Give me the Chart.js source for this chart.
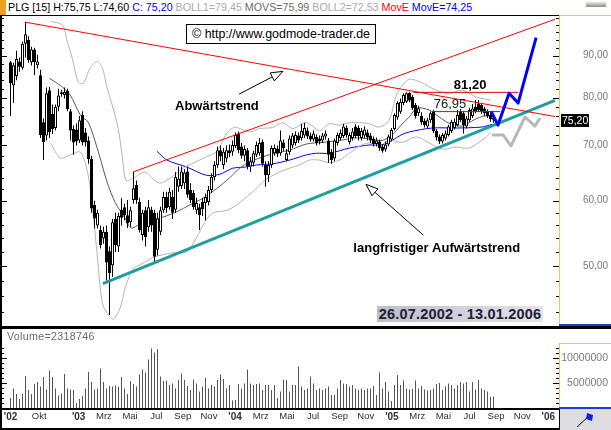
<!DOCTYPE html>
<html>
<head>
<meta charset="utf-8">
<script src="https://cdn.jsdelivr.net/npm/chart.js@4.4.1/dist/chart.umd.min.js"></script>
<style>
  html, body { margin: 0; padding: 0; background: #fff; }
  body { width: 611px; height: 430px; position: relative; overflow: hidden;
         font-family: "Liberation Sans", Arial, Helvetica, sans-serif; }
  .abs { position: absolute; }
  #head { left: 8px; top: 1px; font-size: 10.7px; line-height: 13px; white-space: nowrap; }
  #copy { left: 186px; top: 24px; width: 188px; height: 18px; border: 1px solid #000; background: #fff;
          font-size: 12.4px; line-height: 18px; text-align: center; white-space: nowrap; }
  #range { left: 377px; top: 306px; width: 166px; height: 16px;
           background: linear-gradient(to right, #bdbdcc, #e4e4ec);
           font-weight: bold; font-size: 14.5px; line-height: 16px; text-align: center; color: #20202c;
           letter-spacing: 0.2px; white-space: nowrap; }
  #vollabel { left: 7px; top: 330px; font-size: 10.7px; line-height: 12px; color: #6a6a6a; letter-spacing: 0.3px; }
</style>
</head>
<body>
<canvas id="price" class="abs" width="611" height="309" style="left:0;top:16px"></canvas>
<canvas id="volume" class="abs" width="611" height="101" style="left:0;top:329px"></canvas>

<div class="abs" style="left:0;top:0;width:6px;height:15px;background:#f0a020"></div>
<div id="head" class="abs"></div>
<div class="abs" style="left:586px;top:2px;width:20px;height:5px;background:linear-gradient(#e8e8e8,#8c8c8c)"></div>

<div class="abs" style="left:0;top:15px;width:559px;height:1px;background:#000"></div>
<div class="abs" style="left:559px;top:15px;width:52px;height:1px;background:#f2c44c"></div>
<div class="abs" style="left:559px;top:15px;width:1px;height:310px;background:#f2c44c"></div>
<div class="abs" style="left:559px;top:324px;width:52px;height:2px;background:#1c3cd0"></div>
<div class="abs" style="left:0;top:326px;width:611px;height:3px;background:#000"></div>

<div id="copy" class="abs">&copy; http://www.godmode-trader.de</div>
<div id="range" class="abs"></div>
<div id="vollabel" class="abs"></div>

<div class="abs" style="left:559px;top:343px;width:52px;height:1px;background:#f2c44c"></div>
<div class="abs" style="left:559px;top:343px;width:1px;height:65px;background:#f2c44c"></div>
<div class="abs" style="left:559px;top:407px;width:52px;height:2px;background:#1c3cd0"></div>
<div class="abs" style="left:0;top:408px;width:559px;height:2px;background:#000"></div>
<div class="abs" style="left:0;top:428px;width:559px;height:2px;background:#000"></div>
<div class="abs" style="left:559px;top:409px;width:51px;height:21px;background:#dcdce2;border-left:1px solid #000"></div>
<svg class="abs" style="left:560px;top:409px" width="51" height="21">
  <line x1="17" y1="18" x2="29" y2="7" stroke="#000" stroke-width="1"/>
  <path d="M27 4 L33 6 L32 12 L26 10 Z" fill="#1020e0"/>
</svg>
<div class="abs" style="left:0;top:15px;width:2px;height:415px;background:#000"></div>

<script>
// ---- weekly quotes, one entry per week starting 26.07.2002 ----
const firstWeek = '2002-07-26';
const rangeText = ['26.07.2002', '13.01.2006'];

const opens = [88.3,82.8,85.0,88.5,87.0,93.0,94.0,88.3,91.5,87.6, 85.2,74.7,72.0,81.7,76.5,73.5,78.0,81.2,80.6,81.5,
  77.0,73.3,73.2,71.0,76.2,72.6,71.0,67.4,59.3,56.0, 55.3,54.0,55.0,52.1,50.1,57.0,52.8,58.5,58.9,57.6,
  56.5,60.1,62.7,59.8,54.5,58.4,55.7,58.5,58.0,52.3, 55.0,58.4,60.6,58.9,60.6,58.5,62.4,62.5,63.0,65.1,
  61.8,61.3,58.4,58.9,59.8,59.6,59.8,61.8,64.1,66.3, 69.1,66.3,67.5,69.1,68.8,69.9,72.4,69.8,68.0,69.1,
  66.0,66.7,68.2,68.5,70.7,66.3,64.4,66.3,68.5,69.4, 68.5,70.6,67.2,68.7,70.0,70.5,72.0,71.5,72.0,73.0,
  72.0,71.2,71.7,71.4,71.0,71.8,71.0,68.8,67.5,70.5, 71.5,71.9,73.5,70.7,71.5,73.8,73.5,71.5,72.0,72.6,
  72.0,71.3,70.3,70.8,69.8,69.2,70.2,71.2,73.3,75.7, 76.9,78.8,79.1,81.1,80.2,78.4,76.6,76.0,75.0,73.8,
  75.1,77.0,72.9,71.8,70.8,71.4,72.1,72.9,73.5,74.1, 77.0,76.6,73.8,75.1,76.0,78.0,78.7,78.4,77.6,77.0,
  76.2,75.6];
const highs = [88.6,88.2,91.2,89.5,93.5,98.8,95.0,92.2,92.0,90.2, 86.5,75.5,82.3,82.5,78.5,78.5,82.0,81.8,82.3,82.0,
  77.5,74.0,74.5,76.0,77.0,73.5,71.8,68.0,60.0,58.5, 56.0,55.8,56.0,52.8,57.0,58.0,58.0,60.4,59.5,60.1,
  59.0,65.0,63.5,60.5,58.5,59.0,60.1,59.0,58.5,58.0, 59.0,61.5,61.5,62.2,61.8,65.0,66.0,66.0,65.5,66.0,
  63.0,61.8,60.5,59.5,60.5,61.2,62.5,64.8,67.0,69.8, 70.0,69.5,70.0,70.2,71.0,72.6,72.8,70.5,70.0,69.5,
  67.8,69.0,70.8,71.5,71.2,67.0,67.0,70.0,70.2,70.0, 73.0,71.2,69.3,72.0,72.5,72.8,72.6,74.4,74.6,73.6,
  72.6,73.0,72.2,72.0,72.5,73.0,71.5,69.3,71.4,72.6, 73.2,74.4,74.0,72.6,73.5,74.3,74.0,73.5,73.8,73.2,
  72.5,71.8,71.6,71.2,70.3,70.8,72.2,73.5,76.6,79.2, 79.8,81.0,81.2,81.2,80.6,78.8,78.2,76.8,75.5,75.6,
  76.95,77.3,73.3,72.2,72.5,73.0,74.2,75.2,75.5,77.3, 77.5,77.0,76.0,77.8,78.6,79.5,79.5,78.8,78.0,77.4,
  76.6,75.75];
const lows = [76.0,78.8,84.0,86.0,86.5,89.5,88.2,87.5,85.2,86.8, 71.5,67.2,71.0,71.5,72.3,73.0,77.0,80.2,79.8,77.0,
  71.0,68.2,70.0,70.5,70.0,69.8,66.5,58.0,55.5,55.5, 52.5,53.2,48.0,43.6,48.5,52.0,52.0,56.0,56.8,55.6,
  55.8,59.5,59.5,54.9,53.7,52.8,55.0,55.0,50.3,51.5, 54.5,58.0,58.0,58.5,57.0,58.0,61.5,62.0,62.0,60.5,
  59.6,58.5,57.8,55.3,57.5,56.8,59.2,61.3,63.5,65.8, 67.0,65.5,66.8,67.8,68.0,69.5,68.5,67.5,67.0,65.5,
  65.0,66.0,67.8,68.0,66.0,62.4,63.2,65.8,68.0,67.8, 68.0,69.0,67.0,68.2,69.5,70.0,70.5,71.0,71.5,71.3,
  70.8,70.8,70.0,70.2,70.5,71.2,66.7,66.5,67.0,70.0, 71.0,71.5,71.6,70.2,71.0,71.5,71.0,71.0,71.5,71.0,
  70.5,69.8,69.8,69.0,68.6,68.8,69.8,70.8,73.0,75.2, 76.5,78.3,78.8,79.0,77.3,75.5,76.0,74.2,73.6,73.4,
  74.6,72.5,71.0,70.3,70.4,71.0,71.8,72.5,73.2,73.8, 74.7,72.4,73.4,74.8,75.6,76.6,76.9,76.5,76.0,75.6,
  74.8,74.6];
const closes = [83.3,87.6,89.1,87.2,93.0,95.5,88.8,91.5,88.3,88.5, 72.1,70.7,81.0,72.7,73.3,78.0,80.5,80.8,81.3,77.5,
  73.0,70.6,70.8,75.1,70.6,70.6,67.4,58.7,57.1,58.0, 53.0,55.0,50.5,49.0,56.5,53.0,57.5,57.2,57.6,56.3,
  58.4,62.1,60.1,55.3,58.0,54.2,58.9,56.0,51.3,57.1, 58.4,60.6,58.8,61.5,58.0,64.1,63.8,65.1,64.9,61.0,
  60.1,58.9,59.6,57.6,58.6,60.6,61.8,64.1,66.3,69.1, 67.9,68.8,69.1,68.5,70.1,72.1,69.1,68.0,69.3,66.1,
  67.0,68.5,70.1,70.5,66.5,64.4,66.3,69.5,69.5,68.4, 71.0,69.5,68.5,71.4,72.0,72.1,71.0,72.9,73.5,71.8,
  71.2,72.4,70.5,70.8,72.0,72.4,68.2,67.2,71.0,72.1, 72.5,73.8,72.1,72.1,72.8,71.9,71.9,72.9,73.2,71.6,
  71.0,70.3,71.0,69.5,69.0,70.2,71.8,73.1,76.2,78.8, 79.1,80.6,81.0,79.4,77.7,76.0,77.7,74.7,74.1,75.1,
  76.6,72.9,71.6,70.8,72.1,72.4,73.8,74.8,74.8,76.2, 75.1,74.1,75.5,77.3,77.6,77.0,77.3,77.0,76.6,76.0,
  75.4,75.2];
// weekly turnover in millions of shares
const volumeMillions = [2.0,3.9,2.8,1.8,2.8,6.4,3.6,2.8,4.8,5.2, 4.3,6.2,3.7,7.5,6.2,3.9,2.5,2.9,6.8,3.9,
  3.7,3.6,1.0,1.8,2.4,3.9,7.2,5.2,3.7,3.9, 7.9,5.2,3.9,4.4,4.3,4.5,4.3,6.2,3.9,2.8,
  5.4,4.8,4.3,6.7,7.7,7.1,9.7,11.9,11.1,11.8, 6.3,5.4,5.5,4.6,4.9,3.9,5.6,6.9,5.6,4.4,
  3.6,5.7,4.9,3.3,4.3,6.0,3.9,4.6,4.3,5.6, 6.7,5.8,3.9,4.6,1.5,1.6,4.8,3.9,4.9,7.7,
  4.9,4.6,4.8,4.9,3.6,4.6,4.6,3.6,4.6,2.0, 3.3,5.7,5.6,3.3,4.6,4.6,8.3,4.3,3.6,3.9,
  6.3,4.9,3.6,3.9,3.6,3.9,4.3,2.6,2.6,3.9, 5.6,4.9,4.8,4.3,4.6,3.9,3.6,3.9,3.6,3.9,
  3.9,4.4,2.6,7.1,3.9,5.2,3.3,1.4,4.6,6.6, 4.6,5.5,3.9,3.7,3.8,5.5,3.9,4.4,3.7,3.5,
  3.6,3.9,4.8,5.0,3.6,4.3,4.9,4.6,3.9,4.6, 5.2,4.9,5.2,3.3,5.2,3.7,5.6,3.9,3.6,3.3,
  2.2,2.318746];

// ---- indicators as [week, price] ----
const bollUpper = [[13.3,99.0],[17.3,98.0],[18.9,93.6],[20.6,89.3],[22.6,83.5],[24.3,83.3],[26.6,87.0],[28.9,88.5],
  [30.6,87.0],[32.2,82.2],[34.2,77.7],[35.9,73.4],[37.2,68.2],[38.5,63.5],[40.9,63.9],[44.9,65.0],[47.2,63.9],
  [49.8,63.0],[53.2,63.9],[57.5,65.7],[61.5,66.8],[64.8,67.7],[68.8,68.9],[72.1,72.5],[74.8,73.7],[76.4,73.4],
  [79.7,72.7],[83.1,73.4],[87.4,73.6],[90.7,74.6],[94.0,73.4],[98.6,74.6],[103.0,73.0],[106.3,74.4],[109.6,74.1],
  [113.0,74.6],[116.3,74.6],[119.6,74.4],[122.9,73.7],[126.2,75.1],[128.6,80.6],[130.6,82.8],[132.9,84.2],
  [136.2,83.7],[141.8,81.7],[146.2,80.9],[150.5,81.7],[155.0,80.2],[160.1,79.45]];
const movs = [[13.0,84.4],[16.6,82.8],[19.9,80.6],[23.3,76.2],[25.9,74.7],[28.9,69.5],[32.2,63.2],[34.9,59.7],
  [38.2,57.1],[40.2,55.6],[43.2,56.2],[46.5,56.8],[50.8,57.3],[55.5,58.2],[59.8,59.3],[64.1,60.4],[68.8,62.1],
  [73.1,64.0],[76.4,65.7],[79.7,66.9],[83.1,67.6],[87.4,68.4],[93.0,69.1],[98.7,70.3],[104.0,70.6],[109.6,71.0],
  [115.3,71.5],[119.6,71.3],[123.9,71.0],[127.2,72.1],[130.2,74.1],[132.9,75.8],[135.5,77.7],[139.5,77.3],
  [142.9,75.8],[146.2,74.5],[150.5,73.9],[154.8,75.3],[157.8,76.0],[160.1,75.99]];
const bollLower = [[13.3,70.5],[16.6,67.6],[19.9,68.2],[23.3,68.7],[25.9,64.4],[27.6,57.6],[28.9,51.6],[30.6,45.1],
  [32.6,43.6],[34.2,43.1],[36.5,44.4],[38.2,47.0],[40.9,49.6],[44.2,50.4],[47.5,51.2],[50.8,51.6],[54.8,51.9],
  [58.8,52.0],[62.1,54.2],[64.8,56.5],[67.4,58.0],[72.1,58.4],[75.4,59.3],[78.1,60.4],[81.4,61.8],[84.7,63.5],
  [89.7,65.0],[93.0,65.7],[96.3,66.3],[99.7,67.2],[103.0,67.2],[106.3,66.7],[109.6,67.2],[113.0,68.5],[116.3,69.9],
  [119.6,70.5],[122.9,69.9],[126.2,71.0],[130.6,70.6],[135.2,71.7],[139.5,70.5],[143.9,69.3],[148.5,69.7],
  [152.8,69.5],[157.1,71.0],[160.1,72.53]];
const movE = [[48.8,68.9],[52.2,67.2],[58.8,65.9],[65.4,64.4],[69.8,64.6],[74.1,65.7],[78.1,65.9],[82.1,66.3],
  [87.4,66.5],[93.0,67.2],[98.7,68.2],[102.0,68.5],[106.3,68.5],[113.0,69.5],[119.6,70.1],[123.9,70.1],[127.2,71.0],
  [130.2,72.1],[132.9,72.7],[140.5,73.5],[148.5,73.5],[157.1,73.7],[160.5,74.25]];

// ---- drawn analysis ----
const downTrend = [[4.8,98.8],[181.5,75.9]];
const channelTop = [[40.8,65.0],[181.5,99.6]];
const longUpTrend = [[30.8,47.6],[181.5,79.4]];
const levelValues = [81.20, 76.95];
const levelSpans = [[134.3,169.3],[140.9,163.2]];
const bullPath = [[160.2,77.0],[162.5,74.1],[166.2,81.0],[169.2,78.8],[175.2,94.6]];
const bearPath = [[160.5,72.1],[164.2,72.1],[166.8,69.9],[171.5,75.8],[174.8,73.9],[176.5,75.6]];
const noteTexts = ['Abwärtstrend', 'langfristiger Aufwärtstrend'];
const notePoints = [[68.8,78.0],[142.1,52.5]];
const levelLabelPoints = [[153.2,82.8],[146.5,78.6]];
const arrowFrom = [[76.2,80.8],[137.6,54.5]];
const arrowTo = [[90.8,86.1],[118.5,62.8]];

// ---- axes ----
const priceTicks = [44,46,48,50,52,54,56,58,60,62,64,66,68,70,72,74,76,78,80,82,84,86,88,90,92,94,96,98,100];
const priceLabels = [50,60,70,80,90];
const volumeTicks = [0,1,2,3,4,5,6,7,8,9,10,11,12];
const volumeLabels = [5,10];
const xTickDates = ['2002-07-26','2002-10-01','2003-01-01','2003-03-01','2003-05-01','2003-07-01','2003-09-01',
  '2003-11-01','2004-01-01','2004-03-01','2004-05-01','2004-07-01','2004-09-01','2004-11-01','2005-01-01',
  '2005-03-01','2005-05-01','2005-07-01','2005-09-01','2005-11-01','2006-01-01'];
const xTickLabels = ["'02","Okt","'03","Mrz","Mai","Jul","Sep","Nov","'04","Mrz","Mai","Jul","Sep","Nov",
  "'05","Mrz","Mai","Jul","Sep","Nov","'06"];

const FONT = '"Liberation Sans", Arial, Helvetica, sans-serif';
Chart.defaults.font.family = FONT;
const X_MIN = -2.5, X_MAX = -2.5 + 556 / 3;
const fmt = v => v.toFixed(2).replace('.', ',');
const weekOf = d => (Date.parse(d + 'T00:00:00Z') - Date.parse(firstWeek + 'T00:00:00Z')) / (7 * 864e5);
const last = closes.length - 1;
const lastOf = a => a[a.length - 1][1];

// header line and captions
const headParts = [
  [`PLG [15] H:${fmt(highs[last])} L:${fmt(lows[last])}`, '#000'],
  [`C: ${fmt(closes[last])}`, '#0000ff'],
  [`BOLL1=${fmt(lastOf(bollUpper))}`, '#aaaaaa'],
  [`MOVS=${fmt(lastOf(movs))}`, '#6a6a6a'],
  [`BOLL2=${fmt(lastOf(bollLower))}`, '#aaaaaa'],
  ['MovE', '#ff0000'],
  [`MovE=${fmt(lastOf(movE))}`, '#0000ff']
];
document.getElementById('head').innerHTML =
  headParts.map(([t, c]) => `<span style="color:${c}">${t}</span>`).join(' ');
document.getElementById('range').textContent = rangeText.join(' - ');
document.getElementById('vollabel').textContent = 'Volume=' + Math.round(volumeMillions[last] * 1e6);

// short tick marks on the inner left and right edges of a panel
const edgeTicks = {
  id: 'edgeTicks',
  afterDatasetsDraw(chart, args, o) {
    const s = chart.scales[o.scale];
    const {ctx, chartArea: a} = chart;
    ctx.save();
    ctx.strokeStyle = '#000';
    ctx.lineWidth = 1;
    ctx.beginPath();
    s.ticks.forEach(t => {
      const y = Math.round(s.getPixelForValue(t.value)) + 0.5;
      const len = o.major.includes(t.value) ? 7 : 4;
      ctx.moveTo(0, y); ctx.lineTo(len, y);
      ctx.moveTo(a.right - len + 1, y); ctx.lineTo(a.right, y);
    });
    ctx.stroke();
    ctx.restore();
  }
};

// captions, arrows and the last-price marker of the price panel
const priceNotes = {
  id: 'priceNotes',
  afterDatasetsDraw(chart) {
    const {ctx, scales: {x, y}} = chart;
    ctx.save();
    ctx.strokeStyle = '#000';
    ctx.lineWidth = 1;
    arrowFrom.forEach((f, i) => {
      const x0 = x.getPixelForValue(f[0]), y0 = y.getPixelForValue(f[1]);
      const x1 = x.getPixelForValue(arrowTo[i][0]), y1 = y.getPixelForValue(arrowTo[i][1]);
      const ang = Math.atan2(y1 - y0, x1 - x0);
      const L = 12, W = 4.5;
      const bx = x1 - L * Math.cos(ang), by = y1 - L * Math.sin(ang);
      ctx.beginPath(); ctx.moveTo(x0, y0); ctx.lineTo(bx, by); ctx.stroke();
      ctx.beginPath();
      ctx.moveTo(x1, y1);
      ctx.lineTo(bx + W * Math.sin(ang), by - W * Math.cos(ang));
      ctx.lineTo(bx - W * Math.sin(ang), by + W * Math.cos(ang));
      ctx.closePath();
      ctx.fillStyle = '#fff'; ctx.fill(); ctx.stroke();
    });
    ctx.textAlign = 'center';
    ctx.textBaseline = 'middle';
    ctx.fillStyle = '#000';
    ctx.font = `bold 13px ${FONT}`;
    noteTexts.forEach((t, i) => {
      ctx.fillText(t, x.getPixelForValue(notePoints[i][0]), y.getPixelForValue(notePoints[i][1]));
    });
    levelValues.forEach((v, i) => {
      ctx.font = (i === 0 ? 'bold ' : '') + `13px ${FONT}`;
      ctx.fillStyle = i === 0 ? '#000' : '#202020';
      ctx.fillText(fmt(v), x.getPixelForValue(levelLabelPoints[i][0]), y.getPixelForValue(levelLabelPoints[i][1]));
    });
    ctx.restore();
  },
  afterDraw(chart) {
    const {ctx, chartArea: a, scales: {y}} = chart;
    const yy = Math.round(y.getPixelForValue(closes[last]));
    ctx.save();
    ctx.fillStyle = '#000';
    ctx.fillRect(a.right + 2, yy - 6, 28, 13);
    ctx.fillStyle = '#fff';
    ctx.font = `10.5px ${FONT}`;
    ctx.textAlign = 'left';
    ctx.textBaseline = 'middle';
    ctx.fillText(fmt(closes[last]), a.right + 3, yy + 1);
    ctx.restore();
  }
};

const pts = pairs => pairs.map(([w, v]) => ({x: w, y: v}));
const lineDs = (pairs, color, width, order, tension = 0) => ({
  type: 'line', data: pts(pairs), borderColor: color, borderWidth: width, pointRadius: 0,
  fill: false, tension, order, borderJoinStyle: 'round'
});

const wickData = lows.map((l, i) => ({x: i, y: [l, highs[i]]}));
const bodyData = opens.map((o, i) => ({x: i, y: [Math.min(o, closes[i]), Math.max(o, closes[i])]}));
const bodyFill = opens.map((o, i) => closes[i] >= o ? '#ffffff' : '#000000');

new Chart(document.getElementById('price'), {
  type: 'bar',
  data: {
    datasets: [
      lineDs(bollUpper, '#b4b4b4', 1, 20, 0.3),
      lineDs(bollLower, '#b4b4b4', 1, 20, 0.3),
      lineDs(movs, '#5a5a5a', 1, 20, 0.3),
      lineDs(movE, '#0000ff', 1, 20, 0.3),
      { type: 'bar', data: wickData, backgroundColor: '#000', borderWidth: 0, barThickness: 1,
        grouped: false, inflateAmount: 0, order: 6 },
      { type: 'bar', data: bodyData, backgroundColor: bodyFill, borderColor: '#000', borderWidth: 1,
        borderSkipped: false, barThickness: 3, grouped: false, inflateAmount: 0, order: 5 },
      lineDs(downTrend, '#ff0000', 1, 3),
      lineDs(channelTop, '#ff0000', 1, 3),
      lineDs(longUpTrend, '#1c9fa0', 3, 3),
      lineDs(levelSpans[0].map(w => [w, levelValues[0]]), '#e00000', 1, 2),
      lineDs(levelSpans[1].map(w => [w, levelValues[1]]), '#e00000', 1, 2),
      lineDs(bearPath, '#b8b8b8', 3, 1),
      lineDs(bullPath, '#0000ff', 3, 1)
    ]
  },
  options: {
    responsive: false, animation: false, events: [],
    layout: { padding: { left: 3, right: 3, top: 0, bottom: 0 } },
    plugins: { legend: { display: false }, tooltip: { enabled: false },
               edgeTicks: { scale: 'y', major: priceLabels } },
    scales: {
      x: { type: 'linear', min: X_MIN, max: X_MAX, offset: false, display: false },
      y: {
        type: 'logarithmic', position: 'right', min: 42.4, max: 100.5, bounds: 'data',
        grid: { display: false, drawTicks: false, tickLength: 0 }, border: { display: false },
        afterBuildTicks: s => { s.ticks = priceTicks.map(v => ({value: v})); },
        afterFit: s => { s.width = 49; s.paddingTop = 0; s.paddingBottom = 0; },
        ticks: { autoSkip: false, crossAlign: 'far', padding: 24, color: '#7a7a7a',
                 font: { size: 10, family: FONT },
                 callback: v => priceLabels.includes(v) ? fmt(v) : '' }
      }
    }
  },
  plugins: [edgeTicks, priceNotes]
});

new Chart(document.getElementById('volume'), {
  type: 'bar',
  data: {
    datasets: [{
      data: volumeMillions.map((v, i) => ({x: i, y: v})),
      backgroundColor: '#555555', borderWidth: 0, barThickness: 1, grouped: false, inflateAmount: 0
    }]
  },
  options: {
    responsive: false, animation: false, events: [],
    layout: { padding: { left: 3, right: 3, top: 14, bottom: 0 } },
    plugins: { legend: { display: false }, tooltip: { enabled: false },
               edgeTicks: { scale: 'y', major: volumeLabels } },
    scales: {
      x: {
        type: 'linear', min: X_MIN, max: X_MAX, offset: false,
        grid: { display: false, drawTicks: false, tickLength: 0 }, border: { display: false },
        afterBuildTicks: s => { s.ticks = xTickDates.map(d => ({value: weekOf(d)})); },
        afterFit: s => { s.height = 22; s.paddingLeft = 0; s.paddingRight = 0; },
        ticks: {
          autoSkip: false, maxRotation: 0, minRotation: 0, padding: 3, color: '#303030',
          font: ctx => {
            const yr = (xTickLabels[ctx.index] || '').startsWith("'");
            return { family: FONT, size: yr ? 10 : 9.5, weight: yr ? 'bold' : 'normal' };
          },
          callback: (v, i) => xTickLabels[i]
        }
      },
      y: {
        type: 'linear', position: 'right', min: 0, max: 13,
        grid: { display: false, drawTicks: false, tickLength: 0 }, border: { display: false },
        afterBuildTicks: s => { s.ticks = volumeTicks.map(v => ({value: v})); },
        afterFit: s => { s.width = 49; s.paddingTop = 0; s.paddingBottom = 0; },
        ticks: { autoSkip: false, crossAlign: 'far', padding: 4, color: '#7a7a7a',
                 font: { size: 10.5, family: FONT },
                 callback: v => volumeLabels.includes(v) ? String(v * 1000000) : '' }
      }
    }
  },
  plugins: [edgeTicks]
});
</script>
</body>
</html>
